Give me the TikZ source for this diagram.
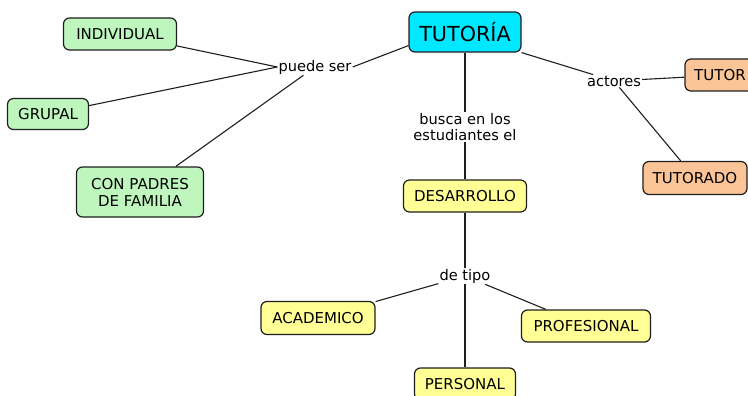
\documentclass[tikz,border=0pt]{standalone}
\usepackage{fontspec}
\setmainfont{DejaVu Sans}
\definecolor{cgreen}{RGB}{190,246,190}
\definecolor{cyellow}{RGB}{255,255,150}
\definecolor{corange}{RGB}{250,196,150}
\definecolor{ccyan}{RGB}{0,232,255}
\definecolor{cline}{RGB}{30,30,30}
\begin{document}
\begin{tikzpicture}[x=1pt,y=-1pt,
  concept/.style={draw=cline,line width=1.2pt,rounded corners=6pt,inner sep=0pt,
    font=\fontsize{15}{17}\selectfont,align=center},
  gbox/.style={concept,fill=cgreen},
  ybox/.style={concept,fill=cyellow},
  obox/.style={concept,fill=corange},
  lbl/.style={inner sep=1pt,font=\fontsize{14.6}{16.5}\selectfont,align=center},
  conn/.style={draw=cline,line width=1.1pt}]
\useasboundingbox (0,0) rectangle (748,396);
\node[concept,fill=ccyan,minimum width=112pt,minimum height=40pt,font=\fontsize{20.7}{23}\selectfont] (tut) at (465,32) {TUTORÍA};
\node[gbox,minimum width=113pt,minimum height=32pt] (ind) at (120,34) {INDIVIDUAL};
\node[gbox,minimum width=81pt,minimum height=31pt] (gru) at (48,114) {GRUPAL};
\node[gbox,minimum width=127pt,minimum height=50pt] (con) at (140,192) {CON PADRES\\DE FAMILIA};
\node[lbl] (pue) at (315,67) {puede ser};
\node[lbl] (bus) at (465,127) {busca en los\\estudiantes el};
\node[ybox,minimum width=123pt,minimum height=32pt] (des) at (465,196) {DESARROLLO};
\node[lbl] (act) at (614,81) {actores};
\node[obox,minimum width=80pt,minimum height=32pt] (tor) at (725,75) {\hspace*{-10pt}TUTOR};
\node[obox,minimum width=104pt,minimum height=33pt] (tdo) at (695,178) {TUTORADO};
\node[lbl] (tip) at (465,276) {de tipo};
\node[ybox,minimum width=114pt,minimum height=33pt] (aca) at (318,318) {ACADEMICO};
\node[ybox,minimum width=129pt,minimum height=32pt] (pro) at (586,326) {PROFESIONAL};
\node[ybox,minimum width=101pt,minimum height=32pt] (per) at (465,384) {PERSONAL};
\draw[conn] (tut.south west) ++(0,-7) coordinate (tsw) -- (pue.east);
\draw[conn] (pue.west) -- (ind);
\draw[conn] (pue.west) -- (gru);
\draw[conn] (pue) -- (con);
\draw[conn] (tut) -- (bus);
\draw[conn] (bus) -- (des);
\draw[conn] (tut.south east) -- (act);
\draw[conn] (act) -- (tor);
\draw[conn] (act) -- (tdo);
\draw[conn] (des) -- (tip);
\draw[conn] (tip) -- (aca);
\draw[conn] (tip) -- (pro);
\draw[conn] (tip) -- (per);
\end{tikzpicture}
\end{document}
